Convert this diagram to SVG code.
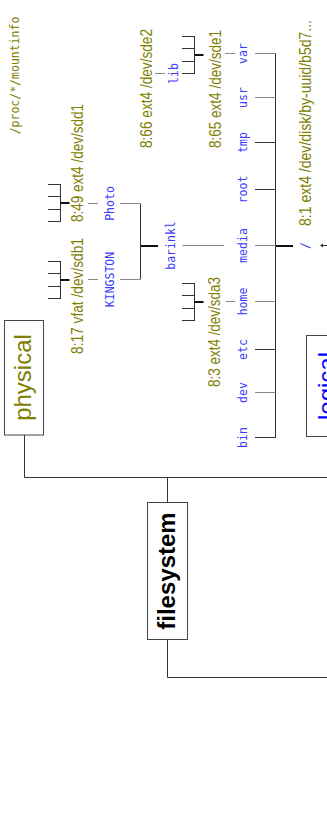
<svg xmlns="http://www.w3.org/2000/svg" width="327" height="826" viewBox="0 0 327 826">
<style>
.lbl{font-family:"DejaVu Sans Mono",monospace;font-size:11.5px;fill:#3b3bff}
.src{font-family:"DejaVu Sans Mono",monospace;font-size:11.5px;fill:#808000}
.mnt{font-family:"Liberation Sans",Arial,sans-serif;font-size:16px;fill:#808000}
.ln{stroke:#333;stroke-width:1;fill:none}
.gr{stroke:#8a8a8a;stroke-width:1;fill:none}
.stub{stroke:#111;stroke-width:2;fill:none}
.box{fill:#fff;stroke:#444;stroke-width:1}
.big{font-family:"Liberation Sans",Arial,sans-serif;font-size:24px}
</style>
<defs>
<g id="mini">
<path class="ln" d="M-12.5,-18.5H0M-12.5,-6.5H0M-12.5,6.5H0M-12.5,18.5H0M0,-19V19"/>
<path class="stub" d="M0,0H9"/>
</g>
</defs>
<g id="connectors">
<path class="ln" d="M24.5,435V477.5H327"/>
<path class="ln" d="M167.5,477.5V502.5"/>
<path class="ln" d="M167.5,639.5V677.5H327"/>
<path class="ln" d="M275.5,53V438"/>
<path class="stub" d="M276,246H293"/>
<path class="gr" d="M255,53.5H275.5M255,97.5H275.5M255,245.5H275.5M255,301.5H275.5M255,392.5H275.5"/>
<path class="ln" d="M255,142.5H275.5M255,189.5H275.5M255,349.5H275.5M255,437.5H275.5"/>
<path class="gr" d="M225,53.5H235M226,301.5H235M155,73.5H165M88,203.5H98M88,279.5H98"/>
<path class="gr" d="M182.5,245.5H224"/>
<path class="stub" d="M141,246H158"/>
<path class="ln" d="M140.5,203.5V279.5"/>
<path class="gr" d="M120,203.5H140.5M120,279.5H140.5"/>
<use href="#mini" transform="translate(194.5,55)"/>
<use href="#mini" transform="translate(194.5,302)"/>
<use href="#mini" transform="translate(60.5,203)"/>
<use href="#mini" transform="translate(60.5,280)"/>
<path class="ln" d="M321,245.5H327"/>
<path d="M320,245.5L323,243.5V247.5Z" fill="#333"/>
</g>
<g id="source"><text class="src" transform="translate(18.5,75.5) rotate(-90)" text-anchor="middle">/proc/*/mountinfo</text></g>
<g id="physical">
<rect class="box" x="4.5" y="320.5" width="39" height="114.5"/>
<text class="big" transform="translate(31,377.5) rotate(-90)" text-anchor="middle" fill="#808000">physical</text>
</g>
<g id="filesystem">
<rect class="box" x="147.5" y="502.5" width="40" height="137"/>
<text class="big" transform="translate(174.5,571) rotate(-90)" text-anchor="middle" font-weight="bold" font-size="23" fill="#000">filesystem</text>
</g>
<g id="logical">
<rect class="box" x="306.5" y="335.5" width="40" height="101"/>
<text class="big" transform="translate(335,386) rotate(-90)" text-anchor="middle" font-size="26" fill="#0000ff">logical</text>
</g>
<g id="root"><text class="lbl" transform="translate(309,245.5) rotate(-90)" text-anchor="middle">/</text>
<text class="mnt" transform="translate(311,226) rotate(-90)" textLength="206" lengthAdjust="spacingAndGlyphs">8:1 ext4 /dev/disk/by-uuid/b5d7...</text></g>
<g id="var"><text class="lbl" transform="translate(247,53.5) rotate(-90)" text-anchor="middle">var</text>
<text class="mnt" transform="translate(221,148) rotate(-90)" textLength="118" lengthAdjust="spacingAndGlyphs">8:65 ext4 /dev/sde1</text></g>
<g id="lib"><text class="lbl" transform="translate(178,73.5) rotate(-90)" text-anchor="middle">lib</text>
<text class="mnt" transform="translate(152,148) rotate(-90)" textLength="119" lengthAdjust="spacingAndGlyphs">8:66 ext4 /dev/sde2</text></g>
<g id="usr"><text class="lbl" transform="translate(247,97.5) rotate(-90)" text-anchor="middle">usr</text></g>
<g id="tmp"><text class="lbl" transform="translate(247,142.5) rotate(-90)" text-anchor="middle">tmp</text></g>
<g id="rootdir"><text class="lbl" transform="translate(247,189.5) rotate(-90)" text-anchor="middle">root</text></g>
<g id="media"><text class="lbl" transform="translate(247,245.5) rotate(-90)" text-anchor="middle">media</text></g>
<g id="home"><text class="lbl" transform="translate(247,301.5) rotate(-90)" text-anchor="middle">home</text>
<text class="mnt" transform="translate(220,387) rotate(-90)" textLength="110" lengthAdjust="spacingAndGlyphs">8:3 ext4 /dev/sda3</text></g>
<g id="etc"><text class="lbl" transform="translate(247,349.5) rotate(-90)" text-anchor="middle">etc</text></g>
<g id="dev"><text class="lbl" transform="translate(247,392.5) rotate(-90)" text-anchor="middle">dev</text></g>
<g id="bin"><text class="lbl" transform="translate(247,437.5) rotate(-90)" text-anchor="middle">bin</text></g>
<g id="barinkl"><text class="lbl" transform="translate(175,245.5) rotate(-90)" text-anchor="middle">barinkl</text></g>
<g id="photo"><text class="lbl" transform="translate(114,203.5) rotate(-90)" text-anchor="middle">Photo</text>
<text class="mnt" transform="translate(83,222) rotate(-90)" textLength="118" lengthAdjust="spacingAndGlyphs">8:49 ext4 /dev/sdd1</text></g>
<g id="kingston"><text class="lbl" transform="translate(114,279.5) rotate(-90)" text-anchor="middle">KINGSTON</text>
<text class="mnt" transform="translate(83,354) rotate(-90)" textLength="116" lengthAdjust="spacingAndGlyphs">8:17 vfat /dev/sdb1</text></g>
</svg>
